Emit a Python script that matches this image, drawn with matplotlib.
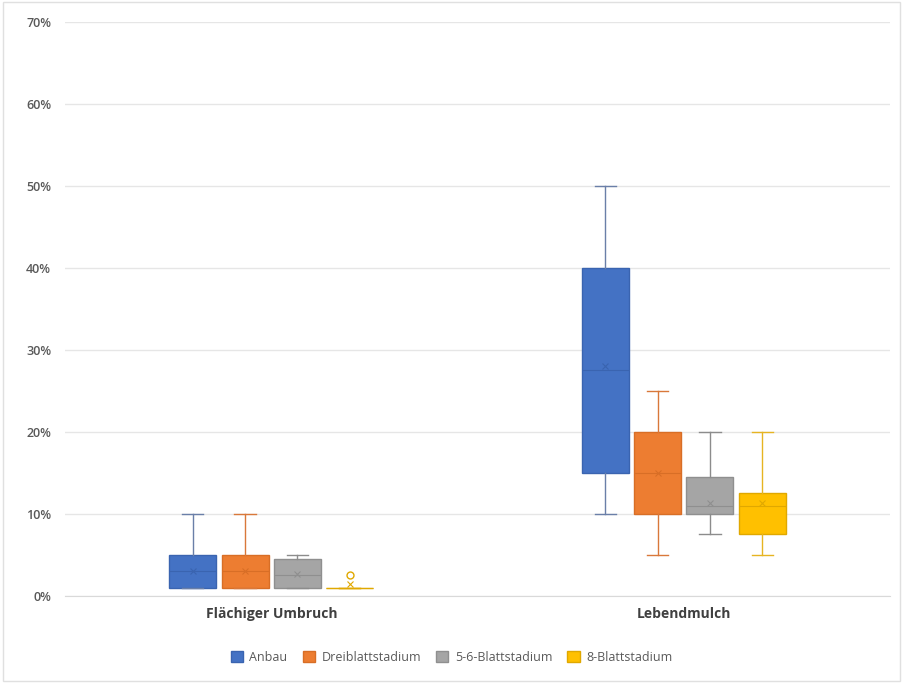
import matplotlib
matplotlib.use("Agg")
import matplotlib.pyplot as plt
from matplotlib.patches import Patch, Rectangle
from matplotlib.ticker import PercentFormatter

plt.rcParams['font.family'] = ['Open Sans', 'DejaVu Sans']

categories = ["Flächiger Umbruch", "Lebendmulch"]
series = ["Anbau", "Dreiblattstadium", "5-6-Blattstadium", "8-Blattstadium"]
colors = ["#4472C4", "#ED7D31", "#A5A5A5", "#FFC000"]
edge_colors = ["#3A64B0", "#D86E26", "#8F8F8F", "#E0A800"]
line_colors = ["#6A7FA8", "#D9783A", "#8C8C8C", "#E6B422"]

# Box statistics per series, one value per category (percent)
q1 = {
    "Anbau": [1.0, 15.0],
    "Dreiblattstadium": [1.0, 10.0],
    "5-6-Blattstadium": [1.0, 10.0],
    "8-Blattstadium": [1.0, 7.5],
}
q3 = {
    "Anbau": [5.0, 40.0],
    "Dreiblattstadium": [5.0, 20.0],
    "5-6-Blattstadium": [4.5, 14.5],
    "8-Blattstadium": [1.0, 12.5],
}
median = {
    "Anbau": [3.0, 27.5],
    "Dreiblattstadium": [3.0, 15.0],
    "5-6-Blattstadium": [2.5, 11.0],
    "8-Blattstadium": [1.0, 11.0],
}
mean = {
    "Anbau": [3.0, 28.0],
    "Dreiblattstadium": [3.0, 15.0],
    "5-6-Blattstadium": [2.7, 11.3],
    "8-Blattstadium": [1.5, 11.3],
}
whisker_low = {
    "Anbau": [1.0, 10.0],
    "Dreiblattstadium": [1.0, 5.0],
    "5-6-Blattstadium": [1.0, 7.5],
    "8-Blattstadium": [1.0, 5.0],
}
whisker_high = {
    "Anbau": [10.0, 50.0],
    "Dreiblattstadium": [10.0, 25.0],
    "5-6-Blattstadium": [5.0, 20.0],
    "8-Blattstadium": [1.0, 20.0],
}
outliers = {
    "Anbau": [[], []],
    "Dreiblattstadium": [[], []],
    "5-6-Blattstadium": [[], []],
    "8-Blattstadium": [[2.5], []],
}
y_ticks = [0, 10, 20, 30, 40, 50, 60, 70]

fig = plt.figure(figsize=(9.03, 6.83), dpi=100)
ax = fig.add_axes([0.072, 0.1274, 0.9136, 0.8406])

step = 0.127
width = 0.114
for i, s in enumerate(series):
    stats = []
    positions = []
    for c in range(len(categories)):
        stats.append(dict(
            med=median[s][c], q1=q1[s][c], q3=q3[s][c],
            whislo=whisker_low[s][c], whishi=whisker_high[s][c],
            mean=mean[s][c], fliers=outliers[s][c], label=categories[c]))
        positions.append(c + 0.5 + (i - 1.5) * step)
    ax.bxp(stats, positions=positions, widths=width, patch_artist=True,
           showmeans=True, manage_ticks=False,
           boxprops=dict(facecolor=colors[i], edgecolor=edge_colors[i], linewidth=1.0),
           medianprops=dict(color=edge_colors[i], linewidth=0.8),
           whiskerprops=dict(color=line_colors[i], linewidth=1.0),
           capprops=dict(color=line_colors[i], linewidth=1.0),
           meanprops=dict(marker='x', markeredgecolor=edge_colors[i], markersize=5,
                          markeredgewidth=0.8),
           flierprops=dict(marker='o', markerfacecolor='none',
                           markeredgecolor=edge_colors[i], markersize=5),
           capwidths=width * 0.45)

ax.set_xlim(0, 2)
ax.set_ylim(0, 70)
ax.set_yticks(y_ticks)
ax.yaxis.set_major_formatter(PercentFormatter(decimals=0))
ax.set_xticks([0.5, 1.5])
ax.set_xticklabels(categories, fontsize=10, fontweight='bold', color='#404040')
ax.tick_params(axis='y', labelsize=9, colors='#595959', length=0, pad=10)
ax.tick_params(axis='x', length=0, pad=8)
for lbl in ax.get_yticklabels():
    lbl.set_fontweight('semibold')
ax.grid(axis='y', color='#E6E6E6', linewidth=1.0)
ax.set_axisbelow(True)
for sp in ['top', 'right', 'left']:
    ax.spines[sp].set_visible(False)
ax.spines['bottom'].set_color('#D9D9D9')

handles = [Patch(facecolor=colors[i], edgecolor=edge_colors[i], label=s)
           for i, s in enumerate(series)]
fig.legend(handles=handles, loc='center', bbox_to_anchor=(0.5, 0.038), ncol=4,
           frameon=False, fontsize=9, labelcolor='#595959', handlelength=1.0,
           handleheight=1.0, handletextpad=0.5, columnspacing=1.2)

fig.patches.append(Rectangle((0.003, 0.003), 0.994, 0.994, transform=fig.transFigure,
                             fill=False, edgecolor='#E0E0E0', linewidth=1.0))

fig.savefig("out.png", dpi=100)
